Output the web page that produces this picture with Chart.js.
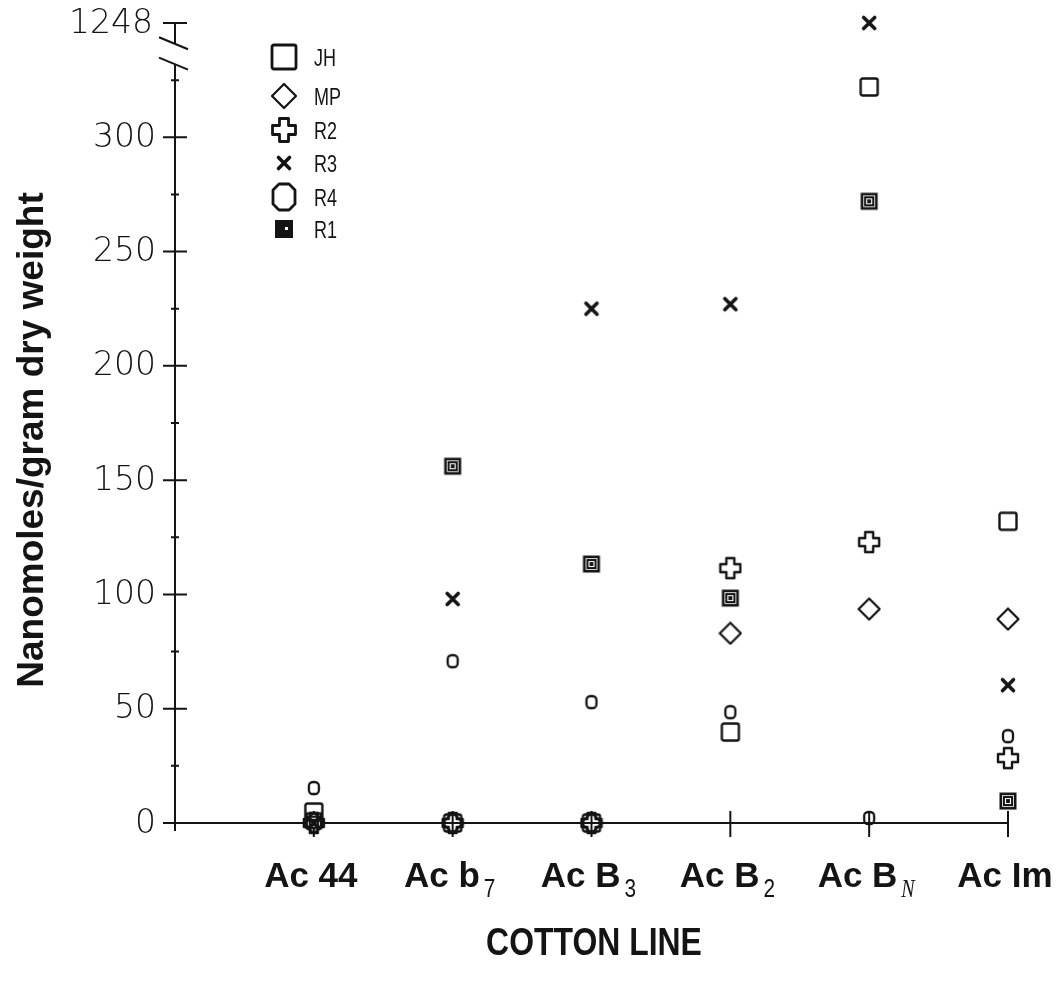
<!DOCTYPE html>
<html>
<head>
<meta charset="utf-8">
<title>Nanomoles/gram dry weight by cotton line</title>
<script src="https://cdn.jsdelivr.net/npm/chart.js@4.4.1/dist/chart.umd.min.js"></script>
<style>
    html, body { margin: 0; padding: 0; background: #fff; }
</style>
</head>
<body>
<canvas id="cotton-chart" width="1060" height="996"></canvas>
<script>
/* ============================================= */
/*                    Data                       */
/* ============================================= */

const cottonLines = ['Ac 44', 'Ac b', 'Ac B', 'Ac B', 'Ac B', 'Ac Im'];
const lineSubs    = ['', '7', '3', '2', 'N', ''];

const seriesNames = ['JH', 'MP', 'R2', 'R3', 'R4', 'R1'];
const jhValues = [4.8, 0, 0, 39.8, 322, 132];
const mpValues = [0, 0, 0, 83, 93.6, 89.2];
const r2Values = [0, 0, 0, 111.5, 122.9, 28.4];
const r3Values = [0, 98, 225, 227, 1248, 60.3];
const r4Values = [15.3, 70.8, 52.9, 48.5, 2.2, 38];
const r1Values = [1, 156.1, 113.3, 98.4, 272, 9.6];

const yTicks      = [0, 50, 100, 150, 200, 250, 300];
const yMinorTicks = [25, 75, 125, 175, 225, 275, 325];
const yTopTick    = 1248;

const INK = '#141414';

/* ============================================= */
/*             Broken value axis                 */
/* ============================================= */

// everything above BREAK_LOW is squeezed into the strip under AXIS_TOP
const BREAK_LOW = 338;
const AXIS_TOP = 350;

function squash(v) {
    return v > BREAK_LOW ? AXIS_TOP - (yTopTick - v) / 100 : v;
}

class BrokenScale extends Chart.LinearScale {
    getPixelForValue(v) {
        if (v === null || v === undefined) return NaN;
        return super.getPixelForValue(squash(v));
    }
}
BrokenScale.id = 'broken';
BrokenScale.defaults = Chart.LinearScale.defaults;
Chart.register(BrokenScale);

/* ============================================= */
/*                 Markers                       */
/* ============================================= */

function markerCanvas(kind, big) {
    const s = big ? 30 : 24;
    const c = document.createElement('canvas');
    c.width = s;
    c.height = s;
    const g = c.getContext('2d');
    const m = s / 2;
    g.strokeStyle = INK;
    g.fillStyle = INK;
    g.lineJoin = 'round';
    g.lineCap = 'round';

    if (kind === 'JH') {
        const h = big ? 12 : 8.5;
        g.lineWidth = big ? 2.8 : 2.4;
        g.beginPath();
        g.roundRect(m - h, m - h, h * 2, h * 2, 2);
        g.stroke();
    } else if (kind === 'MP') {
        const h = big ? 12 : 10.5;
        g.lineWidth = 2.2;
        g.beginPath();
        g.moveTo(m, m - h);
        g.lineTo(m + h, m);
        g.lineTo(m, m + h);
        g.lineTo(m - h, m);
        g.closePath();
        g.stroke();
    } else if (kind === 'R2') {
        const e = big ? 11.5 : 10;
        const a = big ? 4.5 : 4;
        g.lineWidth = big ? 2.8 : 2.4;
        g.beginPath();
        g.moveTo(m - a, m - e);
        g.lineTo(m + a, m - e);
        g.lineTo(m + a, m - a);
        g.lineTo(m + e, m - a);
        g.lineTo(m + e, m + a);
        g.lineTo(m + a, m + a);
        g.lineTo(m + a, m + e);
        g.lineTo(m - a, m + e);
        g.lineTo(m - a, m + a);
        g.lineTo(m - e, m + a);
        g.lineTo(m - e, m - a);
        g.lineTo(m - a, m - a);
        g.closePath();
        g.stroke();
    } else if (kind === 'R3') {
        const h = 5.5;
        g.lineWidth = 3.6;
        g.beginPath();
        g.moveTo(m - h, m - h);
        g.lineTo(m + h, m + h);
        g.moveTo(m + h, m - h);
        g.lineTo(m - h, m + h);
        g.stroke();
    } else if (kind === 'R4') {
        if (big) {
            // octagon in the key
            g.lineWidth = 2.8;
            g.beginPath();
            g.moveTo(m - 5, m - 13);
            g.lineTo(m + 5, m - 13);
            g.lineTo(m + 11, m - 7);
            g.lineTo(m + 11, m + 7);
            g.lineTo(m + 5, m + 13);
            g.lineTo(m - 5, m + 13);
            g.lineTo(m - 11, m + 7);
            g.lineTo(m - 11, m - 7);
            g.closePath();
            g.stroke();
        } else {
            g.lineWidth = 2.3;
            g.beginPath();
            g.roundRect(m - 5, m - 6, 10, 12, 4);
            g.stroke();
        }
    } else if (kind === 'R1') {
        const h = big ? 9 : 8.5;
        g.fillRect(m - h, m - h, h * 2, h * 2);
        if (big) {
            g.fillStyle = '#fff';
            g.fillRect(m + 1, m - 2, 3, 3);
        } else {
            g.strokeStyle = '#e8e8e8';
            g.lineWidth = 1;
            g.setLineDash([2, 1]);
            g.strokeRect(m - 5.5, m - 5.5, 11, 11);
            g.setLineDash([]);
            g.strokeStyle = '#fff';
            g.lineWidth = 1.2;
            g.strokeRect(m - 2.5, m - 2.5, 5, 5);
        }
    }
    return c;
}

// draws text squeezed horizontally, for the narrow lettering
function narrowText(ctx, text, x, y, squeeze) {
    ctx.save();
    ctx.translate(x, y);
    ctx.scale(squeeze, 1);
    ctx.fillText(text, 0, 0);
    ctx.restore();
}

/* ============================================= */
/*                 Plugins                       */
/* ============================================= */

const axesPlugin = {
    id: 'axesPlugin',
    beforeDatasetsDraw(chart) {
        const ctx = chart.ctx;
        const xs = chart.scales.x;
        const ys = chart.scales.y;
        const ax = xs.getPixelForValue(0);
        const y0 = ys.getPixelForValue(0);
        const yTop = ys.getPixelForValue(yTopTick);
        const breakA = ys.getPixelForValue(BREAK_LOW + 2);
        const breakB = ys.getPixelForValue(BREAK_LOW - 6);

        ctx.save();
        ctx.strokeStyle = INK;
        ctx.lineWidth = 2;
        ctx.lineCap = 'butt';

        // y axis, in two pieces round the break
        ctx.beginPath();
        ctx.moveTo(ax, y0 + 8);
        ctx.lineTo(ax, breakB);
        ctx.moveTo(ax, breakA);
        ctx.lineTo(ax, yTop);
        ctx.stroke();

        // break marks
        ctx.beginPath();
        [breakA, breakB].forEach(by => {
            ctx.moveTo(ax - 16, by - 6.5);
            ctx.lineTo(ax + 13, by + 5.5);
        });
        ctx.stroke();

        // x axis
        const xEnd = xs.getPixelForValue(xs.max);
        ctx.beginPath();
        ctx.moveTo(ax - 12, y0);
        ctx.lineTo(xEnd, y0);
        ctx.stroke();

        // major and minor ticks cross the axis
        ctx.beginPath();
        yTicks.concat([yTopTick]).forEach(v => {
            const py = ys.getPixelForValue(v);
            ctx.moveTo(ax - 12, py);
            ctx.lineTo(ax + 12, py);
        });
        yMinorTicks.forEach(v => {
            const py = ys.getPixelForValue(v);
            ctx.moveTo(ax - 4, py);
            ctx.lineTo(ax + 4, py);
        });
        cottonLines.forEach((c, i) => {
            const px = xs.getPixelForValue(i + 1);
            ctx.moveTo(px, y0 - 12);
            ctx.lineTo(px, y0 + 14);
        });
        ctx.stroke();

        // tick labels
        ctx.fillStyle = INK;
        ctx.font = '200 33px "DejaVu Sans"';
        ctx.textAlign = 'right';
        ctx.textBaseline = 'middle';
        yTicks.forEach(v => {
            ctx.fillText(String(v), ax - 19, ys.getPixelForValue(v) + 1);
        });
        ctx.fillText(String(yTopTick), ax - 22, yTop + 1);

        // cotton line names with subscripts
        ctx.textBaseline = 'alphabetic';
        ctx.textAlign = 'left';
        const mainFont = 'bold 35px "Liberation Sans", Arial, sans-serif';
        cottonLines.forEach((name, i) => {
            const px = xs.getPixelForValue(i + 1);
            const sub = lineSubs[i];
            ctx.font = mainFont;
            const w1 = ctx.measureText(name).width;
            const subFont = /[A-Z]/.test(sub)
                ? 'italic 25px "Liberation Serif", serif'
                : '26px "Liberation Sans", sans-serif';
            ctx.font = subFont;
            const w2 = sub ? ctx.measureText(sub).width * 0.8 + 4 : 0;
            const left = px - (w1 + w2) / 2 - 3;
            ctx.font = mainFont;
            ctx.fillText(name, left, 887);
            if (sub) {
                ctx.font = subFont;
                narrowText(ctx, sub, left + w1 + 4, 897, 0.8);
            }
        });

        // axis titles
        ctx.textAlign = 'center';
        ctx.font = 'bold 38px "Liberation Sans", Arial, sans-serif';
        narrowText(ctx, 'COTTON LINE', 594, 955, 0.84);

        ctx.save();
        ctx.translate(43, 440);
        ctx.rotate(-Math.PI / 2);
        ctx.font = 'bold 37px "Liberation Sans", Arial, sans-serif';
        ctx.fillText('Nanomoles/gram dry weight', 0, 0);
        ctx.restore();

        ctx.restore();
    }
};

const keyPlugin = {
    id: 'keyPlugin',
    afterDatasetsDraw(chart) {
        const ctx = chart.ctx;
        const rows = [57, 96, 130, 163, 197, 229];
        ctx.save();
        ctx.fillStyle = INK;
        ctx.font = '24px "Liberation Sans", sans-serif';
        ctx.textAlign = 'left';
        ctx.textBaseline = 'middle';
        chart.data.datasets.forEach((ds, i) => {
            const img = ds.keyStyle;
            ctx.drawImage(img, 284 - img.width / 2, rows[i] - img.height / 2);
            narrowText(ctx, ds.label, 314, rows[i] + 2, 0.75);
        });
        ctx.restore();
    }
};

/* ============================================= */
/*                 Scatter Chart                 */
/* ============================================= */

const allValues = [jhValues, mpValues, r2Values, r3Values, r4Values, r1Values];

const datasets = seriesNames.map((name, k) => ({
    label: name,
    data: allValues[k].map((v, i) => ({ x: i + 1, y: v })),
    pointStyle: markerCanvas(name, false),
    keyStyle: markerCanvas(name, true),
    pointRadius: 10,
    clip: false
}));

const cottonCanvas = document.getElementById('cotton-chart');

let cottonChart = new Chart(cottonCanvas, {
    type: 'scatter',
    data: { datasets: datasets },
    options: {
        responsive: false,
        devicePixelRatio: 1,
        animation: false,
        layout: {
            padding: { left: 175, right: 52, top: 23, bottom: 173 }
        },
        scales: {
            x: { type: 'linear', min: 0, max: 6, display: false },
            y: { type: 'broken', min: 0, max: AXIS_TOP, display: false }
        },
        plugins: {
            legend: { display: false },
            tooltip: { enabled: false }
        }
    },
    plugins: [axesPlugin, keyPlugin]
});
</script>
</body>
</html>
